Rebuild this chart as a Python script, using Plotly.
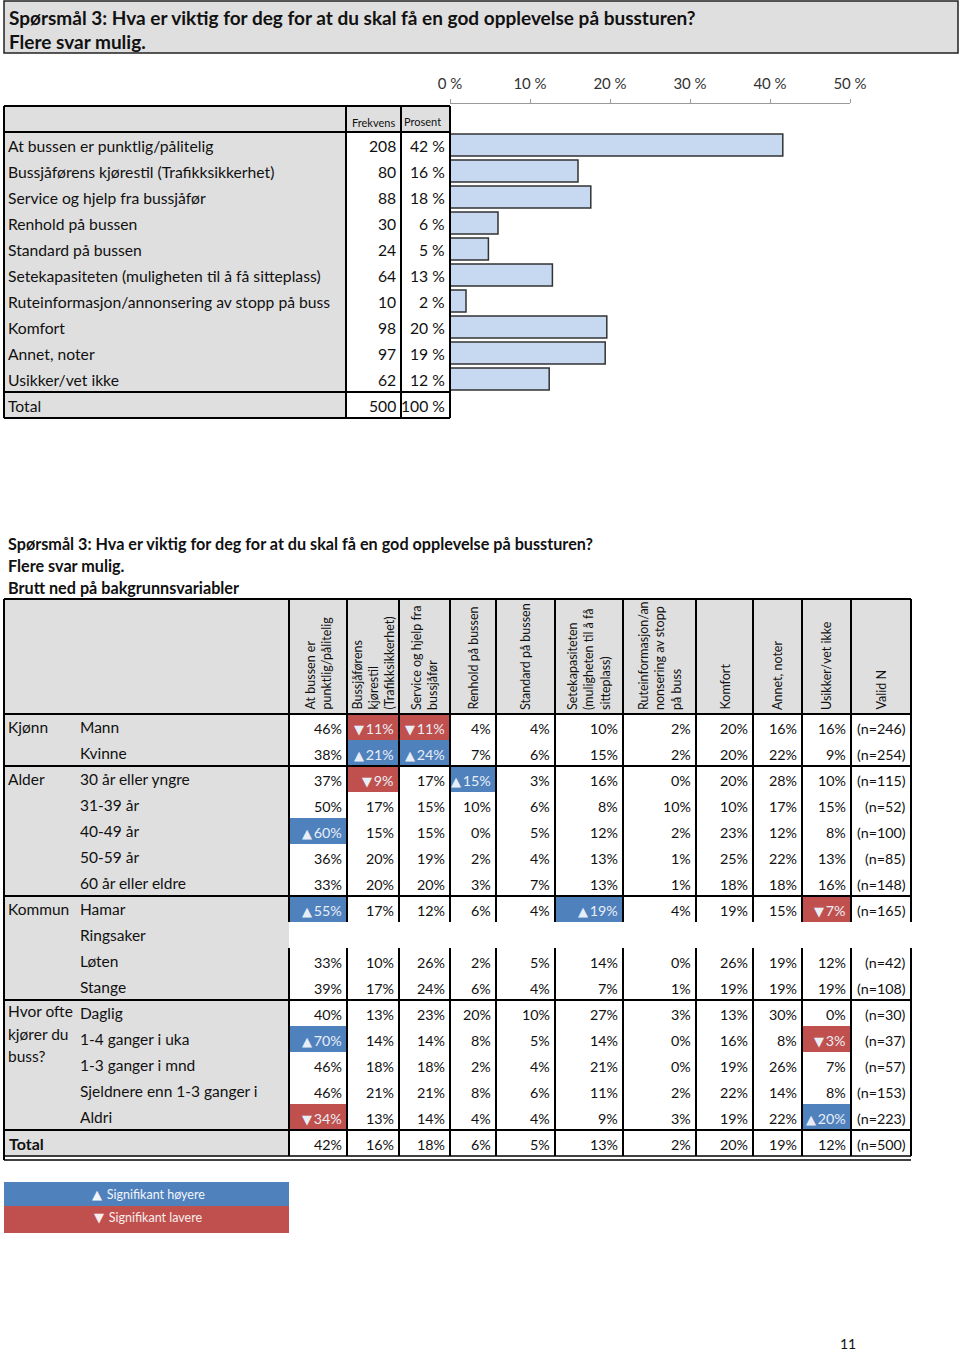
import plotly.graph_objects as go

# ---------------- data ----------------
q_title = "Spørsmål 3: Hva er viktig for deg for at du skal få en god opplevelse på bussturen?"
q_sub = "Flere svar mulig."
breakdown_sub = "Brutt ned på bakgrunnsvariabler"

options = [
    "At bussen er punktlig/pålitelig",
    "Bussjåførens kjørestil (Trafikksikkerhet)",
    "Service og hjelp fra bussjåfør",
    "Renhold på bussen",
    "Standard på bussen",
    "Setekapasiteten (muligheten til å få sitteplass)",
    "Ruteinformasjon/annonsering av stopp på buss",
    "Komfort",
    "Annet, noter",
    "Usikker/vet ikke",
]
frequency = [208, 80, 88, 30, 24, 64, 10, 98, 97, 62]
percent = [42, 16, 18, 6, 5, 13, 2, 20, 19, 12]
total_n = 500
total_pct = 100
axis_ticks = [0, 10, 20, 30, 40, 50]

col_headers = [
    "At bussen er<br>punktlig/pålitelig",
    "Bussjåførens<br>kjørestil<br>(Trafikksikkerhet)",
    "Service og hjelp fra<br>bussjåfør",
    "Renhold på bussen",
    "Standard på bussen",
    "Setekapasiteten<br>(muligheten til å få<br>sitteplass)",
    "Ruteinformasjon/an<br>nonsering av stopp<br>på buss",
    "Komfort",
    "Annet, noter",
    "Usikker/vet ikke",
    "Valid N",
]

group_names = ["Kjønn", "Alder", "Kommun", "Hvor ofte|kjører du|buss?"]
group_rows = [
    ["Mann", "Kvinne"],
    ["30 år eller yngre", "31-39 år", "40-49 år", "50-59 år", "60 år eller eldre"],
    ["Hamar", "Ringsaker", "Løten", "Stange"],
    ["Daglig", "1-4 ganger i uka", "1-3 ganger i mnd", "Sjeldnere enn 1-3 ganger i", "Aldri"],
]

row_values = [
    [46, 11, 11, 4, 4, 10, 2, 20, 16, 16],
    [38, 21, 24, 7, 6, 15, 2, 20, 22, 9],
    [37, 9, 17, 15, 3, 16, 0, 20, 28, 10],
    [50, 17, 15, 10, 6, 8, 10, 10, 17, 15],
    [60, 15, 15, 0, 5, 12, 2, 23, 12, 8],
    [36, 20, 19, 2, 4, 13, 1, 25, 22, 13],
    [33, 20, 20, 3, 7, 13, 1, 18, 18, 16],
    [55, 17, 12, 6, 4, 19, 4, 19, 15, 7],
    None,
    [33, 10, 26, 2, 5, 14, 0, 26, 19, 12],
    [39, 17, 24, 6, 4, 7, 1, 19, 19, 19],
    [40, 13, 23, 20, 10, 27, 3, 13, 30, 0],
    [70, 14, 14, 8, 5, 14, 0, 16, 8, 3],
    [46, 18, 18, 2, 4, 21, 0, 19, 26, 7],
    [46, 21, 21, 8, 6, 11, 2, 22, 14, 8],
    [34, 13, 14, 4, 4, 9, 3, 19, 22, 20],
]
# 1 = significantly higher, -1 = significantly lower
row_sig = [
    [0, -1, -1, 0, 0, 0, 0, 0, 0, 0],
    [0, 1, 1, 0, 0, 0, 0, 0, 0, 0],
    [0, -1, 0, 1, 0, 0, 0, 0, 0, 0],
    [0, 0, 0, 0, 0, 0, 0, 0, 0, 0],
    [1, 0, 0, 0, 0, 0, 0, 0, 0, 0],
    [0, 0, 0, 0, 0, 0, 0, 0, 0, 0],
    [0, 0, 0, 0, 0, 0, 0, 0, 0, 0],
    [1, 0, 0, 0, 0, 1, 0, 0, 0, -1],
    None,
    [0, 0, 0, 0, 0, 0, 0, 0, 0, 0],
    [0, 0, 0, 0, 0, 0, 0, 0, 0, 0],
    [0, 0, 0, 0, 0, 0, 0, 0, 0, 0],
    [1, 0, 0, 0, 0, 0, 0, 0, 0, -1],
    [0, 0, 0, 0, 0, 0, 0, 0, 0, 0],
    [0, 0, 0, 0, 0, 0, 0, 0, 0, 0],
    [-1, 0, 0, 0, 0, 0, 0, 0, 0, 1],
]
valid_n = [246, 254, 115, 52, 100, 85, 148, 165, None, 42, 108, 30, 37, 57, 153, 223]
total_values = [42, 16, 18, 6, 5, 13, 2, 20, 19, 12]
legend_labels = ["Signifikant høyere", "Signifikant lavere"]
page_number = "11"

# ---------------- style / layout ----------------
W, H = 960, 1352
FONT = "Lato"
GRAY = "#dfdfdf"
BLUE = "#4f81bd"
RED = "#c0504d"
BAR_FILL = "#c6d9f1"
INK = "#111111"
LW = 2
UP = '<span style="font-family:DejaVu Sans;font-size:13px">▲</span>\u2009'
DOWN = '<span style="font-family:DejaVu Sans;font-size:13px">▼</span>\u2009'

shapes = []
ann = []


def rect(x0, x1, y0, y1, fill, line=None, lw=0):
    shapes.append(dict(type="rect", xref="x", yref="y", x0=x0, x1=x1, y0=y0, y1=y1,
                       fillcolor=fill, line=dict(color=line or fill, width=lw), layer="below"))


def seg(x0, y0, x1, y1, lw=LW, color="#000"):
    shapes.append(dict(type="line", xref="x", yref="y", x0=x0, x1=x1, y0=y0, y1=y1,
                       line=dict(color=color, width=lw), layer="above"))


def text(x, y, s, size=15, anchor="left", color=INK, bold=False, angle=0, yanchor="middle"):
    ann.append(dict(x=x, y=y, xref="x", yref="y", text=f"<b>{s}</b>" if bold else s,
                    showarrow=False, xanchor=anchor, yanchor=yanchor, textangle=angle,
                    align=anchor if anchor != "center" else "center",
                    font=dict(family=FONT, size=size, color=color)))


# ---- title box ----
rect(4, 958, 1, 53, GRAY, "#222", 1.5)
text(7, 17, q_title, size=19, bold=True)
text(7, 41, q_sub, size=19, bold=True)

# ---- table 1 ----
T1_X = [4, 346, 401, 450]
T1_TOP, ROW = 106, 26
T1_BODY = T1_TOP + ROW
T1_TOT = T1_BODY + ROW * len(options)
T1_BOT = T1_TOT + ROW
rect(T1_X[0], T1_X[1], T1_TOP, T1_BOT, GRAY)
rect(T1_X[1], T1_X[3], T1_TOP, T1_BODY, GRAY)
rect(T1_X[1], T1_X[3], T1_BODY, T1_BOT, "white")
for xv in T1_X:
    seg(xv, T1_TOP, xv, T1_BOT)
for yv in [T1_TOP, T1_BODY, T1_TOT, T1_BOT]:
    seg(T1_X[0], yv, T1_X[3], yv)
text((T1_X[1] + T1_X[2]) / 2, T1_TOP + 16, "Frekvens", size=11, anchor="center")
text(T1_X[2] + 21, T1_TOP + 15, "Prosent", size=11, anchor="center")
for i, (lab, f, p) in enumerate(zip(options, frequency, percent)):
    yc = T1_BODY + ROW * i + ROW / 2 + 1
    text(T1_X[0] + 2, yc, lab, size=15.7)
    text(T1_X[2] - 3, yc, str(f), size=15.7, anchor="right")
    text(T1_X[3] - 3, yc, f"{p} %", size=15.7, anchor="right")
yc = T1_TOT + ROW / 2 + 1
text(T1_X[0] + 2, yc, "Total", size=15.7)
text(T1_X[2] - 3, yc, str(total_n), size=15.7, anchor="right")
text(T1_X[3] - 3, yc, f"{total_pct} %", size=15.7, anchor="right")

# ---- table 2 ----
text(6, 543, q_title, size=16.2, bold=True)
text(6, 565, q_sub, size=16.2, bold=True)
text(6, 587, breakdown_sub, size=16.2, bold=True)

T2_X = [289, 347, 399, 450, 496, 555, 623, 696, 753, 802, 851, 911]
T2_LEFT, T2_SUB = 4, 78
T2_TOP, T2_HEAD = 599, 714
labels_flat = []
group_start = []
for g, rows in zip(group_names, group_rows):
    group_start.append((len(labels_flat), g))
    labels_flat.extend(rows)
n_rows = len(labels_flat) + 1
T2_BOT = T2_HEAD + ROW * n_rows
tot_top = T2_BOT - ROW

rect(T2_LEFT, T2_X[0], T2_TOP, T2_BOT, GRAY)
rect(T2_X[0], T2_X[-1], T2_TOP, T2_HEAD, GRAY)

empty_rows = [i for i, v in enumerate(row_values) if v is None]

# header texts (rotated)
for j, h in enumerate(col_headers):
    xc = (T2_X[j] + T2_X[j + 1]) / 2
    ann.append(dict(x=xc, y=T2_HEAD - 2, xref="x", yref="y", text=h, showarrow=False,
                    xanchor="center", yanchor="bottom", textangle=-90, align="left",
                    font=dict(family=FONT, size=12.5, color=INK)))

# body
for i, lab in enumerate(labels_flat):
    yc = T2_HEAD + ROW * i + ROW / 2
    text(T2_SUB, yc, lab, size=15.5)
    vals = row_values[i]
    if vals is None:
        continue
    for j, v in enumerate(vals):
        s = row_sig[i][j]
        x0, x1 = T2_X[j], T2_X[j + 1]
        col = "#e8eef7" if s else INK
        if s == 1:
            rect(x0, x1, yc - ROW / 2, yc + ROW / 2, BLUE)
            lab_s = f"{UP}{v}%"
        elif s == -1:
            rect(x0, x1, yc - ROW / 2, yc + ROW / 2, RED)
            lab_s = f"{DOWN}{v}%"
        else:
            lab_s = f"{v}%"
        text(x1 - 3, yc + 1, lab_s, size=14.3, anchor="right", color=col)
    text(T2_X[-1] - 3, yc + 1, f"(n={valid_n[i]})", size=14.3, anchor="right")

yc = tot_top + ROW / 2
text(7, yc, "Total", size=16, bold=True)
for j, v in enumerate(total_values):
    text(T2_X[j + 1] - 3, yc + 1, f"{v}%", size=14.3, anchor="right")
text(T2_X[-1] - 3, yc + 1, f"(n={total_n})", size=14.3, anchor="right")

# group labels
for start, g in group_start:
    parts = g.split("|")
    for k, p in enumerate(parts):
        off = -2 if len(parts) > 1 else 0
        yc = T2_HEAD + ROW * start + ROW / 2 + off + 22.5 * k
        text(6, yc, p, size=15.5)

# lines table 2
seg(T2_LEFT, T2_TOP, T2_X[-1], T2_TOP)
seg(T2_LEFT, T2_HEAD, T2_X[-1], T2_HEAD)
seg(T2_LEFT, T2_TOP, T2_LEFT, T2_BOT + 4)
gap_segments = []
y_prev = T2_TOP
for e in empty_rows:
    gap_segments.append((y_prev, T2_HEAD + ROW * e))
    y_prev = T2_HEAD + ROW * (e + 1)
gap_segments.append((y_prev, T2_BOT))
for xv in T2_X:
    for a, b in gap_segments:
        seg(xv, a, xv, b)
k = 0
for rows in group_rows[:-1]:
    k += len(rows)
    seg(T2_LEFT, T2_HEAD + ROW * k, T2_X[-1], T2_HEAD + ROW * k)
seg(T2_LEFT, tot_top, T2_X[-1], tot_top)
seg(T2_LEFT, T2_BOT, T2_X[-1], T2_BOT, lw=1.5)
seg(T2_LEFT, T2_BOT + 4, T2_X[-1], T2_BOT + 4, lw=1.5)

# legend boxes
rect(4, 289, 1182, 1206, BLUE)
rect(4, 289, 1206, 1233, RED)
text(148, 1194, f"{UP} {legend_labels[0]}", size=12.5, anchor="center", color="#f2f5fa")
text(148, 1217, f"{DOWN} {legend_labels[1]}", size=12.5, anchor="center", color="#f8eeee")

text(848, 1343, page_number, size=14, anchor="center")

# ---------------- figure ----------------
fig = go.Figure()
fig.add_trace(go.Bar(
    x=[f / total_n for f in frequency], y=options, orientation="h",
    xaxis="x2", yaxis="y2", width=0.85,
    marker=dict(color=BAR_FILL, line=dict(color="#333333", width=1.5)),
    hoverinfo="skip", showlegend=False,
))

fig.update_layout(
    width=W, height=H, autosize=False,
    margin=dict(l=0, r=0, t=0, b=0, pad=0, autoexpand=False),
    paper_bgcolor="white", plot_bgcolor="rgba(0,0,0,0)",
    showlegend=False,
    xaxis=dict(range=[0, W], domain=[0, 1], visible=False, fixedrange=True),
    yaxis=dict(range=[H, 0], domain=[0, 1], visible=False, fixedrange=True),
    xaxis2=dict(domain=[450 / W, 850 / W], range=[0, 0.5], anchor="free",
                position=1 - 103 / H, side="top", showline=True, linecolor="#9a9a9a",
                linewidth=1, ticks="outside", ticklen=4, tickcolor="#9a9a9a",
                tickvals=[t / 100 for t in axis_ticks], ticktext=[f"{t} %" for t in axis_ticks],
                tickfont=dict(family=FONT, size=15, color="#333"), showgrid=False,
                zeroline=False, ticklabelstandoff=4, automargin=False),
    yaxis2=dict(domain=[1 - T1_TOT / H, 1 - T1_BODY / H], anchor="x2", autorange="reversed",
                visible=False, categoryorder="array", categoryarray=options),
    bargap=0.15,
    shapes=shapes,
    annotations=ann,
)

fig.write_html(
    "out.html",
    config={"responsive": False, "displayModeBar": False},
    post_script="document.body.style.margin='0';document.body.style.overflow='hidden';",
)
